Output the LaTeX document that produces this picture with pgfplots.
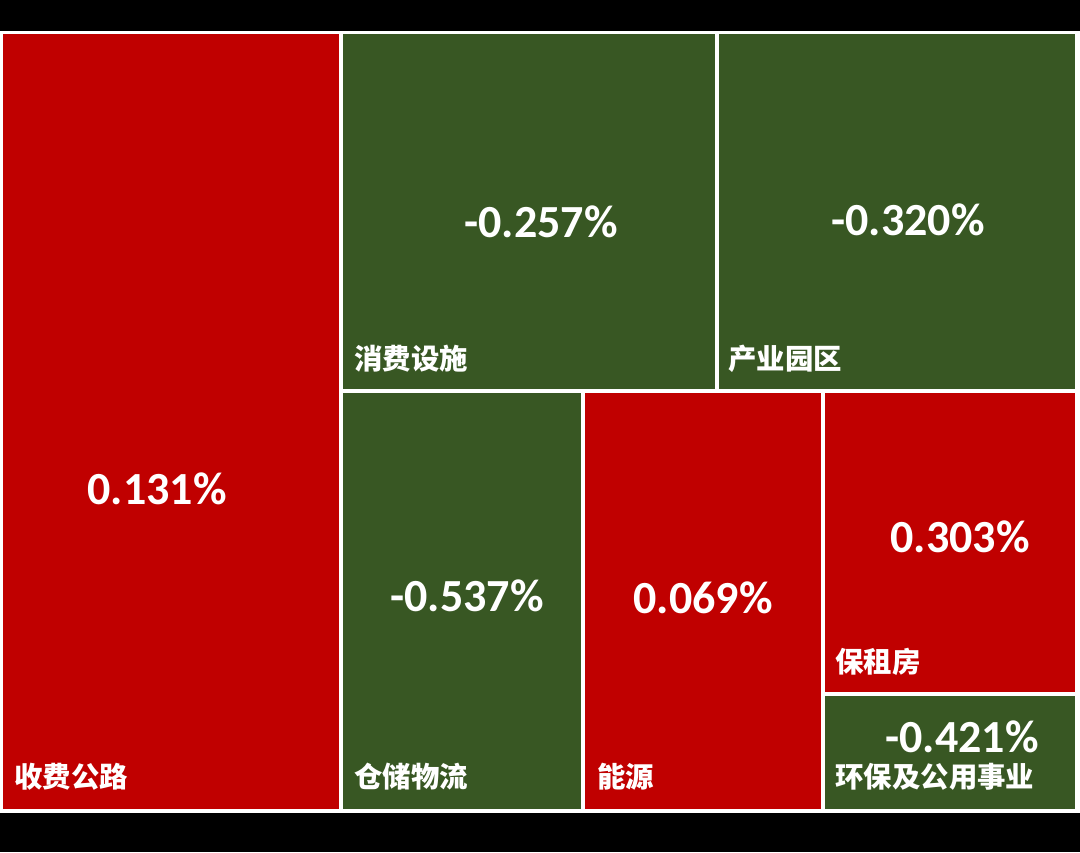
\documentclass[border=0pt]{standalone}
\usepackage{pgfplots}
\pgfplotsset{compat=1.18}
\usepackage{fontspec}
\setmainfont{Carlito}
\newfontfamily\cjk{Noto Sans CJK SC}
\definecolor{tred}{RGB}{192,0,0}
\definecolor{tgreen}{RGB}{56,87,35}
\begin{document}
\begin{tikzpicture}
\begin{axis}[
  scale only axis, width=540pt, height=426pt,
  xmin=0, xmax=1080, ymin=0, ymax=852, y dir=reverse,
  hide axis, clip=true,
]
% background
\addplot[fill=black, draw=none] coordinates {(0,0) (1080,0) (1080,852) (0,852)} --cycle;
\addplot[fill=white, draw=none] coordinates {(0,31) (1080,31) (1080,813) (0,813)} --cycle;
% tiles
\addplot[fill=tred, draw=none] coordinates {(3,34) (339,34) (339,809) (3,809)} --cycle;
\addplot[fill=tgreen, draw=none] coordinates {(343,34) (715,34) (715,389) (343,389)} --cycle;
\addplot[fill=tgreen, draw=none] coordinates {(719,34) (1075,34) (1075,389) (719,389)} --cycle;
\addplot[fill=tgreen, draw=none] coordinates {(343,393) (581,393) (581,809) (343,809)} --cycle;
\addplot[fill=tred, draw=none] coordinates {(585,393) (821,393) (821,809) (585,809)} --cycle;
\addplot[fill=tred, draw=none] coordinates {(825,393) (1075,393) (1075,692) (825,692)} --cycle;
\addplot[fill=tgreen, draw=none] coordinates {(825,696) (1075,696) (1075,809) (825,809)} --cycle;
% values
\begin{scope}[every node/.style={text=white, font=\fontsize{23}{26}\selectfont\bfseries, inner sep=0pt}]
\node at (axis cs:157,489) {0.131\%};
\node at (axis cs:541,222) {-0.257\%};
\node at (axis cs:908,220) {-0.320\%};
\node at (axis cs:467,596) {-0.537\%};
\node at (axis cs:703,598) {0.069\%};
\node at (axis cs:960,537) {0.303\%};
\node at (axis cs:962,737) {-0.421\%};
\end{scope}
% labels
\begin{scope}[every node/.style={text=white, font=\cjk\fontsize{14.2}{16}\selectfont\bfseries, inner sep=0pt, anchor=west}]
\node at (axis cs:14,777) {收费公路};
\node at (axis cs:354,359) {消费设施};
\node at (axis cs:728,359) {产业园区};
\node at (axis cs:354,777) {仓储物流};
\node at (axis cs:597,777) {能源};
\node at (axis cs:835,662) {保租房};
\node at (axis cs:835,777) {环保及公用事业};
\end{scope}
\end{axis}
\end{tikzpicture}
\end{document}
